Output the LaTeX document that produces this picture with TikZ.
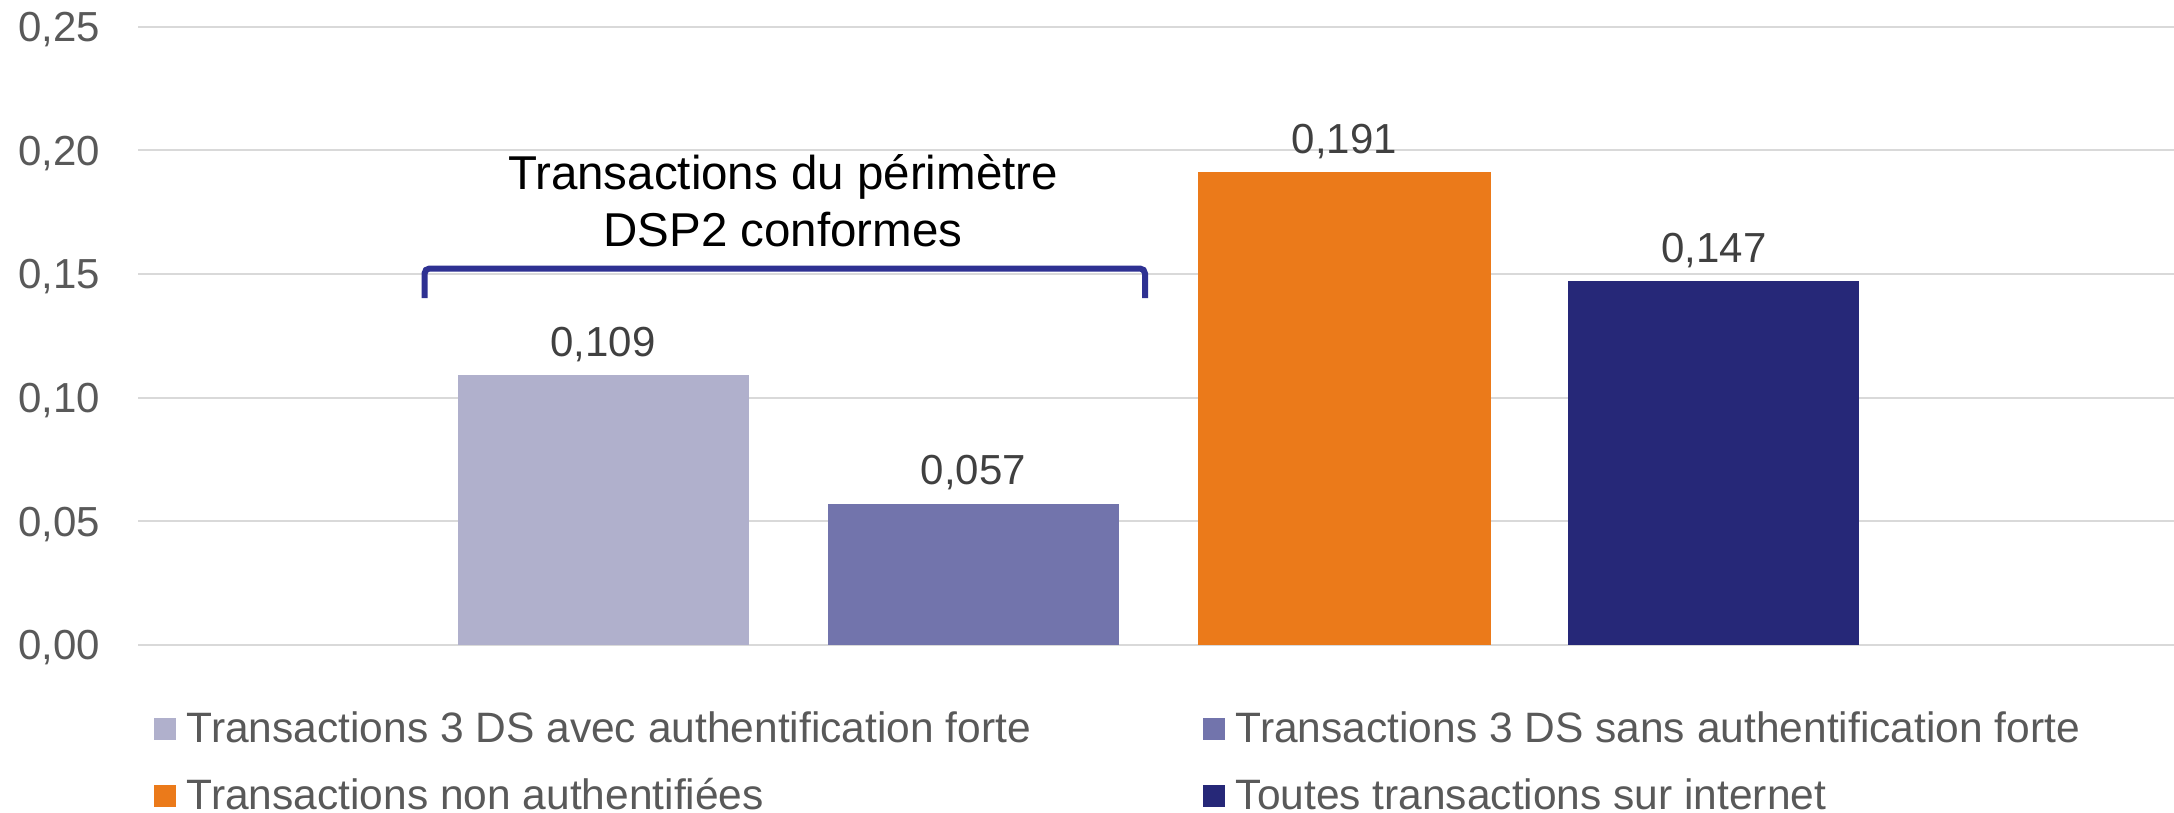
\documentclass[tikz,border=0pt]{standalone}
\usepackage{fontspec}
\setmainfont{Liberation Sans}
\definecolor{gridgray}{HTML}{D9D9D9}
\definecolor{ticktext}{HTML}{595959}
\definecolor{valtext}{HTML}{404040}
\definecolor{barA}{HTML}{B0B0CC}
\definecolor{barB}{HTML}{7274AC}
\definecolor{barC}{HTML}{EB7A1A}
\definecolor{barD}{HTML}{262878}
\definecolor{bracecol}{HTML}{2E3192}
\tikzset{
  gridline/.style={draw=gridgray, line width=2pt},
  ticklabel/.style={anchor=base east, inner sep=0pt, text=ticktext,
    font=\fontsize{42}{50}\selectfont},
  vallabel/.style={anchor=base, inner sep=0pt, text=valtext,
    font=\fontsize{42}{50}\selectfont},
  legtext/.style={anchor=base west, inner sep=0pt, text=ticktext,
    font=\fontsize{42.5}{50}\selectfont},
  annot/.style={anchor=base, inner sep=0pt, text=black,
    font=\fontsize{47.5}{57}\selectfont},
  brace/.style={draw=bracecol, line width=6pt, rounded corners=5pt}
}
\begin{document}
\begin{tikzpicture}[x=1pt, y=-1pt]
\useasboundingbox (0,0) rectangle (2174,813);
\fill[white] (0,0) rectangle (2174,813);

% horizontal grid and tick labels (0.05 = 123.6 px)
\foreach \v/\lab [count=\i from 0] in {0/{0,00},0.05/{0,05},0.10/{0,10},0.15/{0,15},0.20/{0,20},0.25/{0,25}} {
  \pgfmathsetmacro{\yy}{644.7-\i*123.6}
  \draw[gridline] (138,\yy) -- (2174,\yy);
  \node[ticklabel] (tick\i) at (100,\yy+15) {\lab};
}

% bars
\fill[barA] (457.5,644.7) rectangle (748.7,375.3);
\fill[barB] (827.7,644.7) rectangle (1118.9,503.8);
\fill[barC] (1197.9,644.7) rectangle (1490.5,172.5);
\fill[barD] (1568.2,644.7) rectangle (1859.3,281.3);

% value labels
\node[vallabel] (v1) at (603.1,356.3) {0,109};
\node[vallabel] (v2) at (973.3,484.8) {0,057};
\node[vallabel] (v3) at (1344.2,153.5) {0,191};
\node[vallabel] (v4) at (1713.8,262.3) {0,147};

% bracket over the first two bars
\coordinate (bl) at (424.5,298);
\coordinate (br) at (1145,298);
\draw[brace] (bl) -- (424.5,268.5) -- (1145,268.5) -- (br);
\node[annot] (ann1) at (783,190) {Transactions du périmètre};
\node[annot] (ann2) at (783,247) {DSP2 conformes};

% legend
\fill[barA] (154,718) rectangle (176,740);
\node[legtext] (leg1) at (186.5,742.5) {Transactions 3 DS avec authentification forte};
\fill[barB] (1203,718) rectangle (1225,740);
\node[legtext] (leg2) at (1235.5,742.5) {Transactions 3 DS sans authentification forte};
\fill[barC] (154,785) rectangle (176,807);
\node[legtext] (leg3) at (186.5,809) {Transactions non authentifiées};
\fill[barD] (1203,785) rectangle (1225,807);
\node[legtext] (leg4) at (1235.5,809) {Toutes transactions sur internet};
\end{tikzpicture}
\end{document}
